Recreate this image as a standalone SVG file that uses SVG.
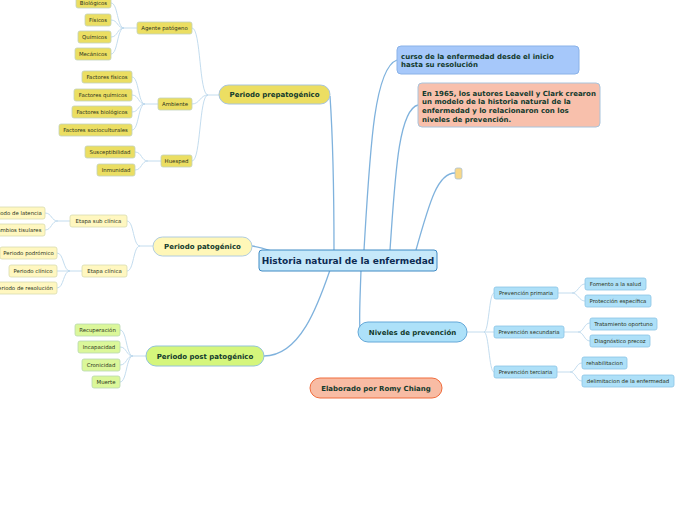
<svg xmlns="http://www.w3.org/2000/svg" width="696" height="520" viewBox="0 0 696 520">
<style>
text{font-family:"DejaVu Sans",Verdana,sans-serif}
.s{font-size:5.4px;fill:#2b3320;text-anchor:middle}
.b{font-size:7px;font-weight:bold;fill:#123a2c;text-anchor:middle}
.bl{font-size:7px;font-weight:bold;fill:#123a2c}
.m{fill:none;stroke:#7fb2dd;stroke-width:1.3}
.k{fill:none;stroke:#bcd8ec;stroke-width:0.9}
.y{fill:#ebde62;stroke:#c2d2bc;stroke-width:0.8}
.ly{fill:#fff7c0;stroke:#d8dcb0;stroke-width:0.8}
.g{fill:#dbf79a;stroke:#b8d8b0;stroke-width:0.8}
.c{fill:#aee0f8;stroke:#8cc4e4;stroke-width:0.8}
</style>
<rect width="696" height="520" fill="#ffffff"/>
<g id="connectors">
<path class="m" d="M334,252 C334,200 333,140 330,96"/>
<path class="m" d="M272,251 C262,248 258,247 252,246"/>
<path class="m" d="M330,270 C318,305 300,356 264,356"/>
<path class="m" d="M364,250 C370,150 374,68 397,60"/>
<path class="m" d="M390,250 C395,180 398,110 418,105"/>
<path class="m" d="M416,250 C430,200 438,173 455,173"/>
<path class="m" d="M361,270 C360,300 359,318 360,330"/>
<path class="k" d="M219,95 L208,95 C199,95 201,28 192,28 M208,95 C200,95 200,104 192,104 M208,95 C199,95 201,161 192,161"/>
<path class="k" d="M137,28 L124,28 C117,28 118,3 111,3 M124,28 C117,28 118,20 111,20 M124,28 C117,28 118,37 111,37 M124,28 C117,28 118,54 111,54"/>
<path class="k" d="M158,104 L145,104 C138,104 139,77 132,77 M145,104 C138,104 139,95 132,95 M145,104 C138,104 139,112 132,112 M145,104 C138,104 139,130 132,130"/>
<path class="k" d="M161,161 L148,161 C141,161 142,152 135,152 M148,161 C141,161 142,170 135,170"/>
<path class="k" d="M153,246 L140,246 C133,246 134,221 127,221 M140,246 C133,246 134,271 127,271"/>
<path class="k" d="M70,221 L58,221 C51,221 52,213 45,213 M58,221 C51,221 52,230 45,230"/>
<path class="k" d="M82,271 L70,271 C63,271 64,253 57,253 M70,271 L57,271 M70,271 C63,271 64,288 57,288"/>
<path class="k" d="M146,356 L133,356 C126,356 127,330 120,330 M133,356 C126,356 127,347 120,347 M133,356 C126,356 127,365 120,365 M133,356 C126,356 127,382 120,382"/>
<path class="k" d="M467,332 L484,332 C489,332 489,293 494,293 M484,332 L494,332 M484,332 C489,332 489,372 494,372"/>
<path class="k" d="M558,293 L572,293 C578,293 579,284 585,284 M572,293 C578,293 579,301 585,301"/>
<path class="k" d="M564,332 L578,332 C584,332 584,323 590,323 M578,332 C584,332 584,341 590,341"/>
<path class="k" d="M557,372 L570,372 C576,372 576,363 582,363 M570,372 C576,372 576,381 582,381"/>
</g>
<g id="central"><rect x="259" y="250" width="178" height="21" rx="3" fill="#c5e8fa" stroke="#3f8ac4" stroke-width="1"/><text x="348" y="263.8" style="font-size:9px;font-weight:bold;fill:#0c2a52;text-anchor:middle">Historia natural de la enfermedad</text></g>
<g id="prepatogenico"><rect x="219" y="85" width="111" height="19" rx="9.5" fill="#ecde62" stroke="#a8c4dc" stroke-width="1"/><text class="b" x="274.5" y="97.3">Periodo prepatogénico</text></g>
<g id="agente"><rect class="y" x="137" y="22" width="55" height="12" rx="2"/><text class="s" x="164.5" y="30">Agente patógeno</text></g>
<g id="biologicos"><rect class="y" x="76" y="-3" width="35" height="11" rx="2"/><text class="s" x="93.5" y="4.6">Biológicos</text></g>
<g id="fisicos"><rect class="y" x="85" y="14" width="26" height="12" rx="2"/><text class="s" x="98" y="21.9">Físicos</text></g>
<g id="quimicos"><rect class="y" x="78" y="31" width="33" height="12" rx="2"/><text class="s" x="94.5" y="38.9">Químicos</text></g>
<g id="mecanicos"><rect class="y" x="75" y="48" width="36" height="12" rx="2"/><text class="s" x="93" y="55.9">Mecánicos</text></g>
<g id="ambiente"><rect class="y" x="158" y="98" width="34" height="12" rx="2"/><text class="s" x="175" y="105.9">Ambiente</text></g>
<g id="ffisicos"><rect class="y" x="82" y="71" width="50" height="12" rx="2"/><text class="s" x="107" y="78.9">Factores físicos</text></g>
<g id="fquimicos"><rect class="y" x="74" y="89" width="58" height="12" rx="2"/><text class="s" x="103" y="96.9">Factores químicos</text></g>
<g id="fbiologicos"><rect class="y" x="72" y="106" width="60" height="12" rx="2"/><text class="s" x="102" y="113.9">Factores biológicos</text></g>
<g id="fsocio"><rect class="y" x="59" y="124" width="73" height="12" rx="2"/><text class="s" x="95.5" y="131.9">Factores socioculturales</text></g>
<g id="huesped"><rect class="y" x="161" y="155" width="31" height="12" rx="2"/><text class="s" x="176.5" y="162.9">Huesped</text></g>
<g id="suscept"><rect class="y" x="85" y="146" width="50" height="12" rx="2"/><text class="s" x="110" y="153.9">Susceptibilidad</text></g>
<g id="inmunidad"><rect class="y" x="97" y="164" width="38" height="12" rx="2"/><text class="s" x="116" y="171.9">Inmunidad</text></g>
<g id="patogenico"><rect x="153" y="237" width="99" height="19" rx="9.5" fill="#fff7b8" stroke="#b0cce0" stroke-width="1"/><text class="b" x="202.5" y="249.3">Periodo patogénico</text></g>
<g id="subclinica"><rect class="ly" x="70" y="215" width="57" height="12" rx="2"/><text class="s" x="98.5" y="222.9">Etapa  sub clínica</text></g>
<g id="latencia"><rect class="ly" x="-13" y="207" width="58" height="12" rx="2"/><text class="s" x="16" y="214.9">Periodo de latencia</text></g>
<g id="tisulares"><rect class="ly" x="-10" y="224" width="55" height="12" rx="2"/><text class="s" x="17.5" y="231.9">Cambios tisulares</text></g>
<g id="clinica"><rect class="ly" x="82" y="265" width="45" height="12" rx="2"/><text class="s" x="104.5" y="272.9">Etapa  clínica</text></g>
<g id="podromico"><rect class="ly" x="0" y="247" width="57" height="12" rx="2"/><text class="s" x="28.5" y="254.9">Periodo podrómico</text></g>
<g id="pclinico"><rect class="ly" x="9" y="265" width="48" height="12" rx="2"/><text class="s" x="33" y="272.9">Periodo clínico</text></g>
<g id="resolucion"><rect class="ly" x="-9" y="282" width="66" height="12" rx="2"/><text class="s" x="24" y="289.9">Periodo de resolución</text></g>
<g id="postpatogenico"><rect x="146" y="346" width="118" height="20" rx="10" fill="#d5f67c" stroke="#94c4d8" stroke-width="1"/><text class="b" x="205" y="358.8">Periodo post patogénico</text></g>
<g id="recuperacion"><rect class="g" x="75" y="324" width="45" height="12" rx="2"/><text class="s" x="97.5" y="331.9">Recuperación</text></g>
<g id="incapacidad"><rect class="g" x="78" y="341" width="42" height="12" rx="2"/><text class="s" x="99" y="348.9">Incapacidad</text></g>
<g id="cronicidad"><rect class="g" x="82" y="359" width="38" height="12" rx="2"/><text class="s" x="101" y="366.9">Cronicidad</text></g>
<g id="muerte"><rect class="g" x="92" y="376" width="28" height="12" rx="2"/><text class="s" x="106" y="383.9">Muerte</text></g>
<g id="curso"><rect x="397" y="46" width="182" height="28" rx="4" fill="#a6c8fa" stroke="#8ab2e8" stroke-width="1"/><text class="bl" x="401" y="58.5">curso de la enfermedad desde el inicio</text><text class="bl" x="401" y="67.3">hasta su resolución</text></g>
<g id="leavell"><rect x="418" y="83" width="182" height="44" rx="4" fill="#f8c0ac" stroke="#a8c4dc" stroke-width="1"/><text class="bl" x="422" y="95.8">En 1965, los autores Leavell y Clark crearon</text><text class="bl" x="422" y="104.4">un modelo de la historia natural de la</text><text class="bl" x="422" y="113">enfermedad y lo relacionaron con los</text><text class="bl" x="422" y="121.6">niveles de prevención.</text></g>
<g id="vacio"><rect x="455" y="168" width="7" height="11" rx="2" fill="#f8d888" stroke="#a8c0d4" stroke-width="0.8"/></g>
<g id="niveles"><rect x="358" y="322" width="109" height="20" rx="10" fill="#ade1f9" stroke="#64a8d8" stroke-width="1"/><text class="b" x="412.5" y="334.8">Niveles de prevención</text></g>
<g id="primaria"><rect class="c" x="494" y="287" width="64" height="12" rx="2"/><text class="s" x="526" y="294.9">Prevención primaria</text></g>
<g id="fomento"><rect class="c" x="585" y="278" width="61" height="12" rx="2"/><text class="s" x="615.5" y="285.9">Fomento a la salud</text></g>
<g id="proteccion"><rect class="c" x="585" y="295" width="66" height="12" rx="2"/><text class="s" x="618" y="302.9">Protección específica</text></g>
<g id="secundaria"><rect class="c" x="494" y="326" width="70" height="12" rx="2"/><text class="s" x="529" y="333.9">Prevención secundaria</text></g>
<g id="tratamiento"><rect class="c" x="590" y="318" width="67" height="12" rx="2"/><text class="s" x="623.5" y="325.9">Tratamiento oportuno</text></g>
<g id="diagnostico"><rect class="c" x="590" y="335" width="60" height="12" rx="2"/><text class="s" x="620" y="342.9">Diagnóstico precoz</text></g>
<g id="terciaria"><rect class="c" x="494" y="366" width="63" height="12" rx="2"/><text class="s" x="525.5" y="373.9">Prevención terciaria</text></g>
<g id="rehabilitacion"><rect class="c" x="582" y="357" width="45" height="12" rx="2"/><text class="s" x="604.5" y="364.9">rehabilitacion</text></g>
<g id="delimitacion"><rect class="c" x="582" y="375" width="92" height="12" rx="2"/><text class="s" x="628" y="382.9">delimitacion de la enfermedad</text></g>
<g id="elaborado"><rect x="310" y="378" width="132" height="20" rx="10" fill="#f8bca4" stroke="#f06c3c" stroke-width="1"/><text class="b" x="376" y="390.8">Elaborado por Romy Chiang</text></g>
</svg>
